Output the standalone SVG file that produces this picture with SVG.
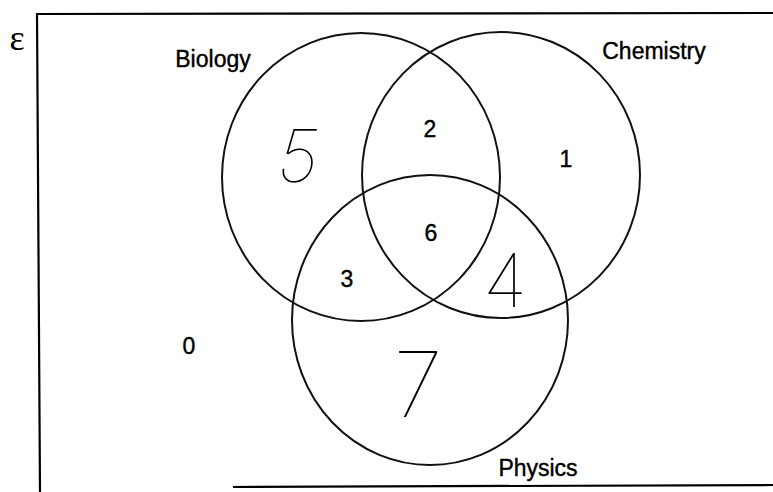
<svg xmlns="http://www.w3.org/2000/svg" width="773" height="492" viewBox="0 0 773 492">
<style>
.frame{fill:none;stroke:#000;stroke-width:2.2}
.set{fill:none;stroke:#111;stroke-width:2}
.lbl{font-family:"Liberation Sans",Arial,sans-serif;font-size:23px;fill:#000;text-anchor:middle;stroke:#000;stroke-width:0.4}
.num{font-family:"Liberation Sans",Arial,sans-serif;font-size:23px;fill:#000;text-anchor:middle;stroke:#000;stroke-width:0.4}
.hand{font-family:Inter,Roboto,"Open Sans",sans-serif;font-weight:100;fill:#000;text-anchor:middle}
</style>
<rect width="773" height="492" fill="#fff"/>
<g id="frame">
<path class="frame" d="M773,13 L37,14 L40,492"/>
<path class="frame" d="M233,487 L773,485"/>
<text x="17" y="50" style="font-family:'Liberation Serif','DejaVu Serif',serif;font-size:36px;fill:#000" text-anchor="middle">ε</text>
</g>
<g id="biology">
<ellipse class="set" cx="361" cy="177" rx="139" ry="144"/>
<text class="lbl" x="213" y="67">Biology</text>
</g>
<g id="chemistry">
<ellipse class="set" cx="501" cy="175" rx="139" ry="143"/>
<text class="lbl" x="654" y="59">Chemistry</text>
</g>
<g id="physics">
<ellipse class="set" cx="430" cy="320" rx="138" ry="145"/>
<text class="lbl" x="538" y="476">Physics</text>
</g>
<g id="counts">
<text class="hand" x="298" y="182" style="font-size:72px;font-style:italic">5</text>
<text class="num" x="430" y="137">2</text>
<text class="num" x="566" y="167">1</text>
<text class="num" x="431" y="241">6</text>
<text class="num" x="347" y="287">3</text>
<text class="hand" x="505" y="307" style="font-size:74px">4</text>
<text class="num" x="189" y="354">0</text>
<text class="hand" x="418" y="417" style="font-size:90px">7</text>
</g>
</svg>
